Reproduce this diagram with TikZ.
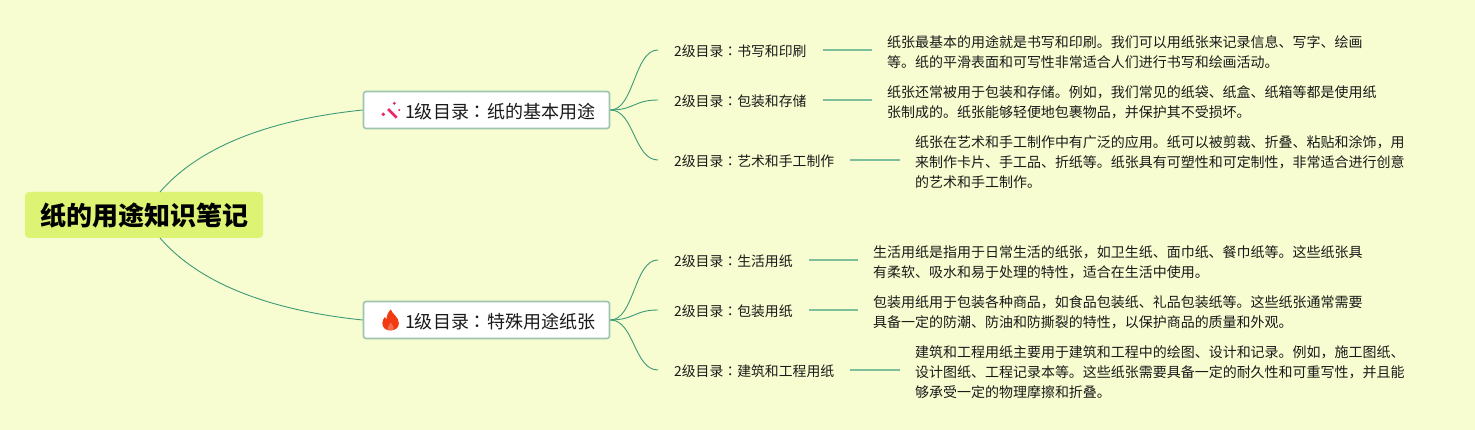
\documentclass[tikz,border=0pt]{standalone}
\usepackage{fontspec}
\setmainfont{Noto Sans CJK SC}
\newfontfamily\colonfont{Noto Sans CJK TC}
\usetikzlibrary{positioning,calc}
\definecolor{bgc}{HTML}{F7FDD0}
\definecolor{rootc}{HTML}{DDF373}
\definecolor{curvec}{HTML}{3F9A78}
\definecolor{linkc}{HTML}{7FC09C}
\definecolor{boxc}{HTML}{9EC4B2}
\definecolor{inkc}{HTML}{1A1A1A}
\definecolor{pinkc}{HTML}{E8276A}
\definecolor{flamec}{HTML}{F23A12}
\newcommand{\cln}{{\colonfont ：}}
\newcommand{\lowered}[2]{\raisebox{-#1pt}[0pt][0pt]{#2}}
\tikzset{x=1pt,y=-1pt,
 rootbox/.style={fill=rootc,rounded corners=4pt,minimum width=238pt,minimum height=46pt,inner sep=0pt,text height=0pt,text depth=0pt,font=\fontsize{26}{30}\selectfont\bfseries,text=black},
 onebox/.style={draw=boxc,line width=1.6pt,fill=white,rounded corners=2.5pt,minimum width=246pt,minimum height=37pt,inner sep=0pt,text height=0pt,text depth=0pt,font=\fontsize{18}{22}\selectfont,text=inkc},
 twolab/.style={anchor=west,inner xsep=16pt,inner ysep=2pt,text height=0pt,text depth=0pt,font=\fontsize{13.85}{16}\selectfont,text=inkc},
 desc/.style={anchor=west,inner xsep=15pt,inner ysep=0pt,align=left,font=\fontsize{13.98}{20}\selectfont,text=inkc},
 curve/.style={draw=curvec,line width=0.9pt},
 link/.style={draw=linkc,line width=1.7pt},
}
\begin{document}
\begin{tikzpicture}
\useasboundingbox (0,0) rectangle (1475,430);
\fill[bgc] (0,0) rectangle (1475,430);
% root
\node[rootbox] (root) at (144,215) {\lowered{11}{纸的用途知识笔记}};
\coordinate (rt) at (160,192);
\coordinate (rb) at (160,238);
% level 1
\node[onebox] (a) at (486.5,110) {\lowered{8.6}{\hspace*{27pt}1级目录\cln 纸的基本用途}};
\node[onebox] (b) at (486.5,320) {\lowered{8.6}{\hspace*{27pt}1级目录\cln 特殊用途纸张}};
% level 2
\node[twolab] (a1) at (658,50) {\lowered{6.5}{2级目录\cln 书写和印刷}};
\node[twolab] (a2) at (658,100) {\lowered{6.5}{2级目录\cln 包装和存储}};
\node[twolab] (a3) at (658,160) {\lowered{6.5}{2级目录\cln 艺术和手工制作}};
\node[twolab] (b1) at (658,260) {\lowered{6.5}{2级目录\cln 生活用纸}};
\node[twolab] (b2) at (658,310) {\lowered{6.5}{2级目录\cln 包装用纸}};
\node[twolab] (b3) at (658,370) {\lowered{6.5}{2级目录\cln 建筑和工程用纸}};
% descriptions
\node[desc] (da1) at (872,52) {纸张最基本的用途就是书写和印刷。我们可以用纸张来记录信息、写字、绘画\\等。纸的平滑表面和可写性非常适合人们进行书写和绘画活动。};
\node[desc] (da2) at (872,102) {纸张还常被用于包装和存储。例如，我们常见的纸袋、纸盒、纸箱等都是使用纸\\张制成的。纸张能够轻便地包裹物品，并保护其不受损坏。};
\node[desc] (da3) at (900,162.2) {纸张在艺术和手工制作中有广泛的应用。纸可以被剪裁、折叠、粘贴和涂饰，用\\来制作卡片、手工品、折纸等。纸张具有可塑性和可定制性，非常适合进行创意\\的艺术和手工制作。};
\node[desc] (db1) at (858,262) {生活用纸是指用于日常生活的纸张，如卫生纸、面巾纸、餐巾纸等。这些纸张具\\有柔软、吸水和易于处理的特性，适合在生活中使用。};
\node[desc] (db2) at (858,312) {包装用纸用于包装各种商品，如食品包装纸、礼品包装纸等。这些纸张通常需要\\具备一定的防潮、防油和防撕裂的特性，以保护商品的质量和外观。};
\node[desc] (db3) at (900,372.2) {建筑和工程用纸主要用于建筑和工程中的绘图、设计和记录。例如，施工图纸、\\设计图纸、工程记录本等。这些纸张需要具备一定的耐久性和可重写性，并且能\\够承受一定的物理摩擦和折叠。};
% root curves
\draw[curve] (rt) .. controls (205,140) and (285,118) .. (a.west);
\draw[curve] (rb) .. controls (205,290) and (285,312) .. (b.west);
% level 2 curves
\foreach \p/\q in {a/a1,a/a2,a/a3,b/b1,b/b2,b/b3}{
 \draw[curve] (\p.east) .. controls ($(\p.east)+(24,0)$) and ($(\q.west)+(-24,0)$) .. (\q.west);
}
% links
\foreach \q in {a1,a2,a3,b1,b2,b3}{
 \draw[link] (\q.east) -- (\q.east -| d\q.west);
}
% wand icon
\draw[pinkc,line width=2.8pt] (388,109) -- (396.7,117.7);
\fill[pinkc] (394.3,103.3) circle (1.6pt);
\fill[pinkc] (383.3,114.3) circle (1.9pt);
\fill[pinkc] (399.3,110) circle (1.1pt);
% flame icon
\begin{scope}[shift={(390.5,0)},xscale=1.2]
\fill[flamec] (0.3,309.5) .. controls (1,314) and (7,316.5) .. (7,323.5)
 .. controls (7,328) and (3.5,330.5) .. (0,330.5)
 .. controls (-4,330.5) and (-7,327.5) .. (-6.8,323)
 .. controls (-6.7,320.5) and (-5.7,318.5) .. (-4.7,317)
 .. controls (-4.5,318.3) and (-4,319) .. (-3.3,319.5)
 .. controls (-3.3,315.5) and (-2,312) .. (0.3,309.5) -- cycle;
\fill[white!25!flamec] (0.3,322.5) .. controls (0.8,324.5) and (2.7,326) .. (2.7,328)
 .. controls (2.7,329.5) and (1.5,330.4) .. (0.1,330.4)
 .. controls (-1.3,330.4) and (-2.5,329.5) .. (-2.5,328)
 .. controls (-2.5,326.2) and (-0.3,324.5) .. (0.3,322.5) -- cycle;
\end{scope}
\end{tikzpicture}
\end{document}
